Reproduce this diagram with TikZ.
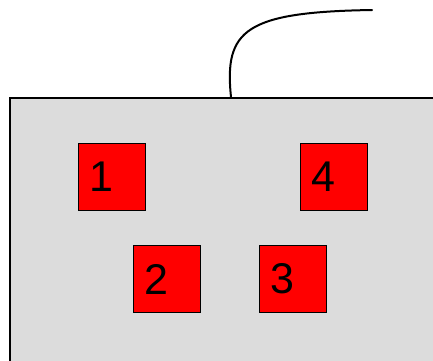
\documentclass[tikz,border=0pt]{standalone}
\usepackage{fontspec}
\setmainfont{Liberation Sans}
\usetikzlibrary{positioning}
\definecolor{boardgray}{RGB}{220,220,220}

\begin{document}
\begin{tikzpicture}[x=1pt,y=-1pt,
  board/.style={draw=black,line width=1.5pt,fill=boardgray},
  sq/.style={draw=black,line width=1pt,fill=red,minimum size=67pt,inner sep=0pt},
  num/.style={font=\fontsize{43}{43}\selectfont,inner sep=0pt,xshift=-11pt},
  cable/.style={line width=2pt,line cap=round}]
\clip (0,0) rectangle (433,360);
% board
\node[board,anchor=north west,minimum width=460pt,minimum height=300pt,inner sep=0pt] (bd) at (9,97) {};
% chips
\node[sq,label={[num]center:1}] (s1) at (112,177) {};
\node[sq,label={[num]center:4}] (s4) at (334,177) {};
\node[sq,label={[num]center:2}] (s2) at (167,279) {};
\node[sq,label={[num]center:3}] (s3) at (293,279) {};
% cable
\coordinate (tip) at (372,10);
\draw[cable] (bd.north west -| 231,0) .. controls (224,30) and (245,12) .. (tip);
\end{tikzpicture}
\end{document}
